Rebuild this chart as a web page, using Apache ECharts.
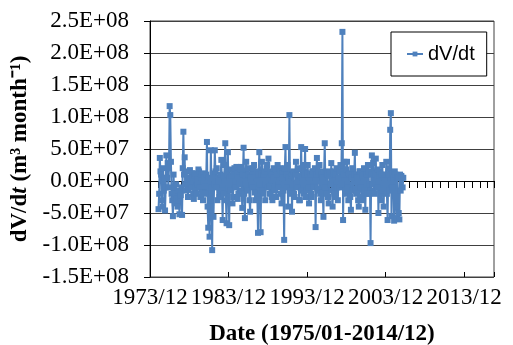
<!DOCTYPE html>
<html>
<head>
<meta charset="utf-8">
<script src="https://cdn.jsdelivr.net/npm/echarts@6/dist/echarts.min.js"></script>
<style>
  html, body { margin: 0; padding: 0; background: #fff; }
  #main { width: 513px; height: 345px; }
</style>
</head>
<body>
<div id="main"></div>
<script>
// dV/dt, millions of m3 per month, one value per month from 1975/01
const startMonth = 13;   // months after 1973/12 (the x axis origin)
const dvdt = [
  -44, -20, 36, 15, 10, -30, -40, 20, -15, 5, -46, -10,      // 1975
  40, 5, 28, -10, 20, 117, 103, 30, -20, -30, -55, 10,       // 1976
  -25, -35, -20, -5, -28, -40, -30, -15, -52, -25, -22, -10, // 1977
  -53, 20, 77, 10, 37, -15, -5, 15, 2, -25, -14, 5,          // 1978
  17, -5, -10, 12, 5, -20, -28, 8, 12, -12, -20, 3,          // 1979
  -5, 18, 15, -10, -25, 5, 10, -18, -30, 12, 5, -8,          // 1980
  -20, 10, 61, -40, -73, 5, -87, -30, 48, -10, -108, 12,     // 1981
  -56, -5, 48, 15, -10, 20, -30, 0, 5, -25, -20, 10,         // 1982
  33, -15, -61, 8, -20, 25, 59, -30, -66, 10, 45, -12,       // 1983
  -69, 5, -15, 18, 8, -35, -25, 15, 20, -5, -10, 22,         // 1984
  12, -28, -20, 5, -5, 18, 22, -15, -42, 10, 52, -20,        // 1985
  -58, 8, 30, -12, -15, 20, 10, -30, -48, 5, -5, 15,         // 1986
  -10, 20, 25, -18, -30, 8, 15, -25, -81, 10, 45, -5,        // 1987
  -80, 12, 30, -15, -20, 10, 15, -30, -5, 20, 25, -10,       // 1988
  35, -8, -20, 15, 10, -25, -30, 5, 20, -12, -15, 18,        // 1989
  -25, 10, 25, -5, -10, 20, 15, -20, -35, 12, 5, -15,        // 1990
  -92, 20, 53, -10, 10, 25, -40, 5, 103, -15, -20, 8,        // 1991
  -48, 12, 15, -20, -25, 10, 30, -5, -10, 18, 20, -30,       // 1992
  -30, 8, 53, -15, 5, 25, -20, 10, 50, -25, -15, 12,         // 1993
  25, -10, -35, 5, 10, -20, -25, 15, 15, -8, -10, 20,        // 1994
  -72, 10, 36, -12, -15, 15, 25, -20, -30, 10, 5, -18,       // 1995
  -56, 15, 59, -10, -20, 12, 10, -25, -35, 8, 15, -5,        // 1996
  28, -15, -40, 10, 15, -20, -25, 12, 20, -10, -30, 5,       // 1997
  -10, 15, 25, -5, 59, 233, -61, 10, 30, -20, -15, 18,       // 1998
  30, -10, -30, 12, 10, -25, -45, 5, 20, -15, -15, 10,       // 1999
  44, -12, -20, 10, 5, -30, -40, 15, 15, -10, -25, 8,        // 2000
  -30, 12, 20, -15, -45, 5, 10, -20, 25, 15, -20, -5,        // 2001
  -97, 10, 40, -5, 28, -15, -20, 12, 35, -10, -10, 18,       // 2002
  -50, 8, 15, -20, -30, 10, 25, -15, -40, 5, 10, -12,        // 2003
  30, -20, -61, 10, 20, -15, 80, 106, -55, 12, -10, 5,       // 2004
  -62, 15, 10, -40, -58, 5, 5, -50, -60, 10, -15, 8,         // 2005
  5, -10, 5                                                  // 2006
];
const yTicks = [-1.5e8, -1e8, -5e7, 0, 5e7, 1e8, 1.5e8, 2e8, 2.5e8];
const xLabelYears = [1973, 1983, 1993, 2003, 2013];

const points = dvdt.map((v, i) => [(startMonth + i) / 12, v * 1e6]);

function sci(v) {
  if (v === 0) return '0.0E+00';
  const exp = Math.floor(Math.log10(Math.abs(v)) + 1e-9);
  const m = v / Math.pow(10, exp);
  return m.toFixed(1) + 'E+' + String(exp).padStart(2, '0');
}

const serif = '"Liberation Serif", "Times New Roman", serif';
const blue = '#4F81BD';

const chart = echarts.init(document.getElementById('main'), null, { renderer: 'canvas' });

chart.setOption({
  animation: false,
  grid: {
    left: 150, right: 19, top: 21, bottom: 68,
    outerBoundsMode: 'none', containLabel: false,
    show: true, borderColor: '#404040', borderWidth: 1
  },
  legend: {
    left: 391, top: 32,
    padding: [12, 12, 12, 15],
    backgroundColor: '#fff',
    borderColor: '#000', borderWidth: 1,
    itemWidth: 16, itemHeight: 6, itemGap: 4,
    textStyle: { fontFamily: '"Liberation Sans", Arial, sans-serif', fontSize: 20, color: '#000' },
    data: ['dV/dt']
  },
  xAxis: [{
    type: 'value', min: 0, max: 43.8, interval: 10,
    axisLine: { lineStyle: { color: '#000', width: 1 } },
    axisTick: { length: 7, lineStyle: { color: '#000' } },
    minorTick: { show: true, splitNumber: 10, length: 7, lineStyle: { color: '#000' } },
    splitLine: { show: false },
    axisLabel: {
      margin: 9, fontFamily: serif, fontSize: 23, color: '#000', showMaxLabel: false,
      formatter: v => {
        const y = xLabelYears.find(yr => Math.abs(yr - 1973 - v) < 1e-6);
        return y ? y + '/12' : '';
      }
    },
    name: 'Date (1975/01-2014/12)', nameLocation: 'middle', nameGap: 46,
    nameTextStyle: { fontFamily: serif, fontSize: 23, fontWeight: 'bold', color: '#000' }
  }, {
    type: 'value', min: 0, max: 43.8, interval: 10, position: 'bottom', offset: 0,
    axisLine: { show: false },
    axisTick: { inside: true, length: 5, lineStyle: { color: '#000' } },
    axisLabel: { show: false }, splitLine: { show: false }
  }],
  yAxis: {
    type: 'value', min: yTicks[0], max: yTicks[yTicks.length - 1], interval: 5e7,
    axisLine: { show: true, lineStyle: { color: '#000', width: 1 } },
    axisTick: { show: true, length: 6, lineStyle: { color: '#000' } },
    splitLine: { lineStyle: { color: '#404040', width: 1 } },
    axisLabel: { margin: 21, fontFamily: serif, fontSize: 23, color: '#000', formatter: sci },
    name: '{b|dV/d}{bi|t}{b| (m³ month⁻¹)}', nameLocation: 'middle', nameGap: 102, nameRotate: 90,
    nameTextStyle: {
      fontFamily: serif, fontSize: 23, fontWeight: 'bold', color: '#000',
      rich: {
        b: { fontFamily: serif, fontSize: 23, fontWeight: 'bold', color: '#000' },
        bi: { fontFamily: serif, fontSize: 23, fontWeight: 'bold', fontStyle: 'italic', color: '#000' }
      }
    }
  },
  series: [{
    name: 'dV/dt', type: 'line', data: points,
    symbol: 'rect', symbolSize: 6, showAllSymbol: true,
    lineStyle: { color: blue, width: 2 },
    itemStyle: { color: blue },
    z: 3
  }]
});
</script>
</body>
</html>
